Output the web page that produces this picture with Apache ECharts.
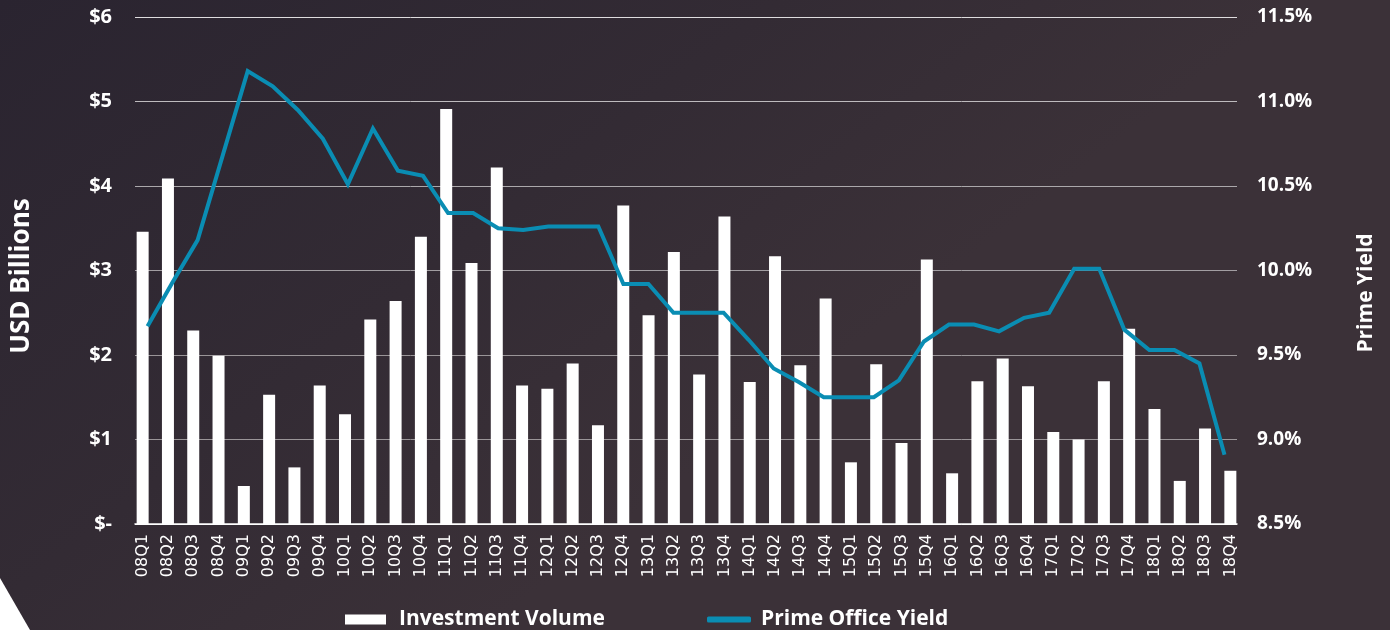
<!DOCTYPE html>
<html>
<head>
<meta charset="utf-8">
<script src="https://cdn.jsdelivr.net/npm/echarts@6/dist/echarts.min.js"></script>
<style>
  html, body { margin: 0; padding: 0; background: #2e2830; }
  #chart { width: 1390px; height: 630px; }
</style>
</head>
<body>
<div id="chart"></div>
<script>
// Quarterly office investment volume (USD bn) and prime office yield (%)
const quarters = [
  '08Q1','08Q2','08Q3','08Q4','09Q1','09Q2','09Q3','09Q4',
  '10Q1','10Q2','10Q3','10Q4','11Q1','11Q2','11Q3','11Q4',
  '12Q1','12Q2','12Q3','12Q4','13Q1','13Q2','13Q3','13Q4',
  '14Q1','14Q2','14Q3','14Q4','15Q1','15Q2','15Q3','15Q4',
  '16Q1','16Q2','16Q3','16Q4','17Q1','17Q2','17Q3','17Q4',
  '18Q1','18Q2','18Q3','18Q4'
];
const investmentVolume = [
  3.46, 4.09, 2.29, 1.99, 0.45, 1.53, 0.67, 1.64,
  1.30, 2.42, 2.64, 3.40, 4.91, 3.09, 4.22, 1.64,
  1.60, 1.90, 1.17, 3.77, 2.47, 3.22, 1.77, 3.64,
  1.68, 3.17, 1.88, 2.67, 0.73, 1.89, 0.96, 3.13,
  0.60, 1.69, 1.96, 1.63, 1.09, 1.00, 1.69, 2.31,
  1.36, 0.51, 1.13, 0.63
];
const primeOfficeYield = [
  9.67, 9.93, 10.18, 10.68, 11.18, 11.09, 10.95, 10.78,
  10.51, 10.84, 10.59, 10.56, 10.34, 10.34, 10.25, 10.24,
  10.26, 10.26, 10.26, 9.92, 9.92, 9.75, 9.75, 9.75,
  9.59, 9.42, 9.34, 9.25, 9.25, 9.25, 9.35, 9.58,
  9.68, 9.68, 9.64, 9.72, 9.75, 10.01, 10.01, 9.65,
  9.53, 9.53, 9.45, 8.91
];
const volumeTicks = { min: 0, max: 6, step: 1 };
const yieldTicks = { min: 8.5, max: 11.5, step: 0.5 };

const WHITE = '#ffffff';
const TEAL = '#0a8db3';
const labelFont = '"Open Sans", "Liberation Sans", sans-serif';

const chart = echarts.init(document.getElementById('chart'), null, { renderer: 'canvas' });

chart.setOption({
  animation: false,
  backgroundColor: {
    type: 'linear', x: 0, y: 0, x2: 0.35, y2: 1,
    colorStops: [
      { offset: 0, color: '#2a2430' },
      { offset: 0.6, color: '#332b34' },
      { offset: 1, color: '#3b3138' }
    ]
  },
  graphic: [
    {
      type: 'polygon', silent: true, z: 0,
      shape: { points: [[0, 578], [30, 630], [0, 630]] },
      style: { fill: '#ffffff' }
    },
    {
      type: 'text', x: 22, y: 276, rotation: Math.PI / 2,
      style: {
        text: 'USD Billions', fill: WHITE, fontFamily: labelFont,
        fontWeight: 'bold', fontSize: 26, align: 'center', verticalAlign: 'middle'
      }
    },
    {
      type: 'text', x: 1366, y: 293, rotation: Math.PI / 2,
      style: {
        text: 'Prime Yield', fill: WHITE, fontFamily: labelFont,
        fontWeight: 'bold', fontSize: 21, align: 'center', verticalAlign: 'middle'
      }
    }
  ],
  legend: [
    {
      left: 340, top: 604,
      itemWidth: 41, itemHeight: 10,
      data: [{ name: 'Investment Volume', icon: 'rect' }],
      textStyle: { color: WHITE, fontFamily: labelFont, fontWeight: 'bold', fontSize: 21, padding: [0, 0, 0, 8] }
    },
    {
      left: 702, top: 604,
      itemWidth: 44, itemHeight: 6,
      data: [{ name: 'Prime Office Yield', icon: 'roundRect' }],
      textStyle: { color: WHITE, fontFamily: labelFont, fontWeight: 'bold', fontSize: 21, padding: [0, 0, 0, 5] }
    }
  ],
  grid: [
    // bars and category labels
    { left: 130, right: 147, top: 17, bottom: 106 },
    // yield line, gridlines and value axes
    { left: 135, right: 153, top: 17, bottom: 106 }
  ],
  xAxis: [
    {
      type: 'category', gridIndex: 0, data: quarters,
      axisLine: { show: false }, axisTick: { show: false },
      axisLabel: {
        interval: 0, rotate: 90, margin: 10,
        color: WHITE, fontFamily: '"DejaVu Sans", sans-serif', fontSize: 16
      }
    },
    {
      type: 'category', gridIndex: 1, data: quarters,
      axisLine: { show: true, lineStyle: { color: WHITE, width: 1.5 } },
      axisTick: { show: false }, axisLabel: { show: false }
    }
  ],
  yAxis: [
    {
      type: 'value', gridIndex: 0,
      min: volumeTicks.min, max: volumeTicks.max, interval: volumeTicks.step,
      show: false
    },
    {
      type: 'value', gridIndex: 1, position: 'left',
      min: volumeTicks.min, max: volumeTicks.max, interval: volumeTicks.step,
      axisLine: { show: false }, axisTick: { show: false },
      axisLabel: {
        margin: 23, color: WHITE, fontFamily: labelFont, fontWeight: 'bold', fontSize: 20,
        formatter: v => (v === 0 ? '$-' : '$' + v)
      },
      splitLine: {
        show: true,
        lineStyle: {
          width: 1,
          color: ['#ffffff', '#9a9598', '#9a9598', '#a29ea2', '#aba8ab', '#bebbbe', '#dedcde']
        }
      }
    },
    {
      type: 'value', gridIndex: 1, position: 'right',
      min: yieldTicks.min, max: yieldTicks.max, interval: yieldTicks.step,
      axisLine: { show: false }, axisTick: { show: false },
      splitLine: { show: false },
      axisLabel: {
        margin: 20, color: WHITE, fontFamily: labelFont, fontWeight: 'bold', fontSize: 19,
        formatter: v => v.toFixed(1) + '%'
      }
    }
  ],
  series: [
    {
      name: 'Investment Volume', type: 'bar',
      xAxisIndex: 0, yAxisIndex: 0,
      data: investmentVolume, barWidth: 12,
      itemStyle: { color: WHITE }
    },
    {
      name: 'Prime Office Yield', type: 'line',
      xAxisIndex: 1, yAxisIndex: 2,
      data: primeOfficeYield,
      showSymbol: false, symbol: 'none',
      lineStyle: { color: TEAL, width: 4, join: 'miter' },
      itemStyle: { color: TEAL },
      z: 5
    }
  ]
});
</script>
</body>
</html>
